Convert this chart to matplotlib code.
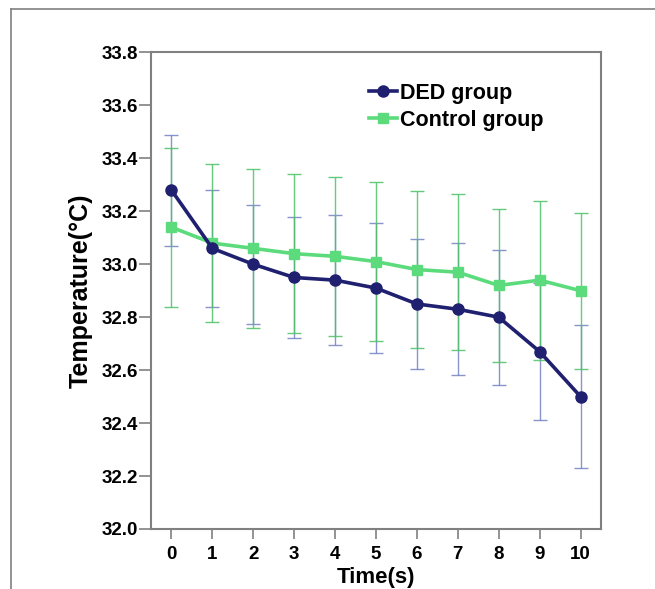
import matplotlib.pyplot as plt
from matplotlib.lines import Line2D

plt.rcParams['font.family'] = ['Liberation Sans', 'DejaVu Sans']
plt.rcParams['font.weight'] = 'bold'

time_s = [0, 1, 2, 3, 4, 5, 6, 7, 8, 9, 10]

ded_mean = [33.28, 33.06, 33.00, 32.95, 32.94, 32.91, 32.85, 32.83, 32.80, 32.67, 32.50]
ded_sd = [0.21, 0.22, 0.225, 0.23, 0.245, 0.245, 0.245, 0.25, 0.255, 0.26, 0.27]

ctrl_mean = [33.14, 33.08, 33.06, 33.04, 33.03, 33.01, 32.98, 32.97, 32.92, 32.94, 32.90]
ctrl_sd = [0.30, 0.30, 0.30, 0.30, 0.30, 0.30, 0.295, 0.295, 0.29, 0.30, 0.295]

y_ticks = [32.0, 32.2, 32.4, 32.6, 32.8, 33.0, 33.2, 33.4, 33.6, 33.8]

navy = '#202070'
navy_bar = '#7480c4'
green = '#5cdb7c'
green_bar = '#4cc268'
frame = '#808080'

fig = plt.figure(figsize=(6.55, 5.89), dpi=100)
ax = fig.add_axes([0.2305, 0.1019, 0.6871, 0.8090])

# outer frame of the figure panel (left and top only)
fig.add_artist(Line2D([0.017, 0.017], [0.0, 0.985], color=frame, lw=1.2, transform=fig.transFigure))
fig.add_artist(Line2D([0.017, 1.0], [0.985, 0.985], color=frame, lw=1.2, transform=fig.transFigure))

ax.errorbar(time_s, ded_mean, yerr=ded_sd, fmt='none', ecolor=navy_bar,
            elinewidth=1.0, capsize=5, capthick=1.0, alpha=0.85, zorder=2)
ax.errorbar(time_s, ctrl_mean, yerr=ctrl_sd, fmt='none', ecolor=green_bar,
            elinewidth=1.0, capsize=5, capthick=1.0, alpha=0.85, zorder=3)

ax.plot(time_s, ctrl_mean, color=green, lw=2.6, marker='s', markersize=7.5,
        label='Control group', zorder=4)
ax.plot(time_s, ded_mean, color=navy, lw=2.6, marker='o', markersize=8,
        label='DED group', zorder=5)

ax.set_xlim(-0.5, 10.5)
ax.set_ylim(32.0, 33.8)
ax.set_xticks(time_s)
ax.set_yticks(y_ticks)
ax.set_yticklabels([f'{v:.1f}' for v in y_ticks])

for s in ax.spines.values():
    s.set_color(frame)
    s.set_linewidth(1.5)

ax.tick_params(axis='y', direction='out', length=9, width=1.2, color=frame,
               labelsize=13.5, pad=0.5)
ax.tick_params(axis='x', direction='out', length=7, width=1.2, color=frame,
               labelsize=13.5, pad=5)

ax.set_xlabel('Time(s)', fontsize=16, fontweight='bold', labelpad=3)
ax.set_ylabel('Temperature(°C)', fontsize=18, fontweight='bold', labelpad=6)

handles, labels = ax.get_legend_handles_labels()
ax.legend(handles[::-1], labels[::-1], loc='upper left', bbox_to_anchor=(0.465, 0.955),
          frameon=False, fontsize=15.5, handlelength=1.3, handletextpad=0.15,
          labelspacing=0.3, borderaxespad=0)

fig.savefig('out.png', dpi=100)
